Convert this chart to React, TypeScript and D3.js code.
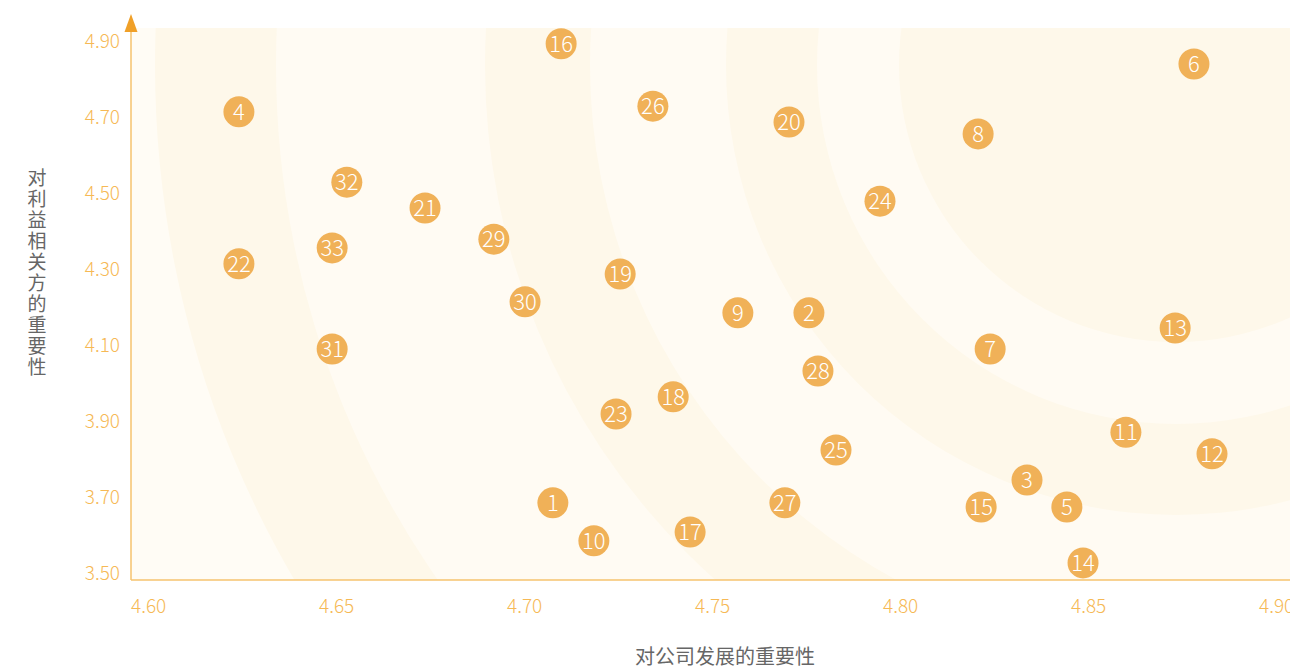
import { useMemo } from "react";
import * as d3 from "d3";

const WIDTH = 1290;
const HEIGHT = 669;

// point ids and their two scores
const ids = [1, 2, 3, 4, 5, 6, 7, 8, 9, 10, 11, 12, 13, 14, 15, 16, 17, 18, 19, 20, 21, 22, 23, 24, 25, 26, 27, 28, 29, 30, 31, 32, 33];
const companyScores = [
  4.7122, 4.7803, 4.8383, 4.6287, 4.8489, 4.8827, 4.8285, 4.8253, 4.7614,
  4.7231, 4.8646, 4.8875, 4.8777, 4.8532, 4.8261, 4.7144, 4.7487, 4.7442,
  4.7301, 4.775, 4.6782, 4.6287, 4.729, 4.7992, 4.7875, 4.7388, 4.7739,
  4.7827, 4.6965, 4.7048, 4.6535, 4.6574, 4.6535,
];
const stakeholderScores = [
  3.703, 4.203, 3.763, 4.732, 3.692, 4.858, 4.108, 4.674, 4.203, 3.603, 3.889,
  3.832, 4.163, 3.545, 3.692, 4.911, 3.626, 3.982, 4.305, 4.705, 4.479, 4.332,
  3.937, 4.497, 3.842, 4.747, 3.703, 4.05, 4.397, 4.232, 4.108, 4.547, 4.374,
];

const xTicks = [4.6, 4.65, 4.7, 4.75, 4.8, 4.85, 4.9];
const yTicks = [3.5, 3.7, 3.9, 4.1, 4.3, 4.5, 4.7, 4.9];

const X_TITLE = "对公司发展的重要性";
const Y_TITLE = "对利益相关方的重要性";

// plot frame (px)
const PLOT = { left: 131, right: 1290, top: 28, bottom: 580 };
// decorative rings, centred near the top right
const RING_CENTER = { x: 1176, y: 65 };
const RING_RADII = [1021, 900, 691, 586, 450, 359, 277];

const FONT = '"Noto Sans CJK SC", "Noto Sans", sans-serif';
const LABEL_COLOR = "#f6b955";

const App = () => {
  const xScale = useMemo(
    () => d3.scaleLinear().domain([4.6, 4.9]).range([131, 1259]),
    []
  );
  const yScale = useMemo(
    () => d3.scaleLinear().domain([3.5, 4.9]).range([580, 48]),
    []
  );

  const points = ids.map((id, i) => ({
    id,
    x: companyScores[i],
    y: stakeholderScores[i],
  }));

  // outer ring first, alternating fills
  const rings = RING_RADII.map((r, i) => (
    <circle
      key={i}
      cx={RING_CENTER.x}
      cy={RING_CENTER.y}
      r={r}
      fill={i % 2 === 0 ? "#fef8ea" : "#fffbf3"}
    />
  ));

  return (
    <svg
      width={WIDTH}
      height={HEIGHT}
      style={{ position: "absolute", left: 0, top: 0, fontFamily: FONT }}
    >
      <defs>
        <clipPath id="plot-clip">
          <rect
            x={PLOT.left}
            y={PLOT.top}
            width={PLOT.right - PLOT.left}
            height={PLOT.bottom - PLOT.top}
          />
        </clipPath>
      </defs>

      <g clipPath="url(#plot-clip)">
        <rect
          x={PLOT.left}
          y={PLOT.top}
          width={PLOT.right - PLOT.left}
          height={PLOT.bottom - PLOT.top}
          fill="#fffcf5"
        />
        {rings}
      </g>

      {/* axes */}
      <line x1={PLOT.left} x2={PLOT.right} y1={PLOT.bottom} y2={PLOT.bottom} stroke="#f6c36e" strokeWidth={1.5} />
      <line x1={PLOT.left} x2={PLOT.left} y1={PLOT.bottom} y2={26} stroke="#f6c36e" strokeWidth={1.5} />
      <path d={`M${PLOT.left},14 L${PLOT.left - 6.5},32 L${PLOT.left + 6.5},32 Z`} fill="#f0a028" />

      {yTicks.map((t) => (
        <text
          key={t}
          x={120}
          y={yScale(t)}
          textAnchor="end"
          fontSize={19}
          fontWeight={300}
          fill={LABEL_COLOR}
        >
          {t.toFixed(2)}
        </text>
      ))}
      {xTicks.map((t) => (
        <text
          key={t}
          x={xScale(t)}
          y={613}
          textAnchor="start"
          fontSize={19}
          fontWeight={300}
          fill={LABEL_COLOR}
        >
          {t.toFixed(2)}
        </text>
      ))}

      {/* axis titles */}
      <text x={725} y={664} textAnchor="middle" fontSize={20} fill="#666">
        {X_TITLE}
      </text>
      <text x={37} y={185} textAnchor="middle" fontSize={19} fill="#666">
        {Y_TITLE.split("").map((c, i) => (
          <tspan key={i} x={37} dy={i === 0 ? 0 : 21}>
            {c}
          </tspan>
        ))}
      </text>

      {/* points */}
      {points.map((d) => {
        const cx = xScale(d.x);
        const cy = yScale(d.y);
        return (
          <g key={d.id}>
            <circle cx={cx} cy={cy} r={15.5} fill="#f0b158" />
            <text
              x={cx}
              y={cy}
              dy="0.36em"
              textAnchor="middle"
              fontSize={22}
              fontWeight={300}
              fill="#ffffff"
            >
              {d.id}
            </text>
          </g>
        );
      })}
    </svg>
  );
};

export default App;
